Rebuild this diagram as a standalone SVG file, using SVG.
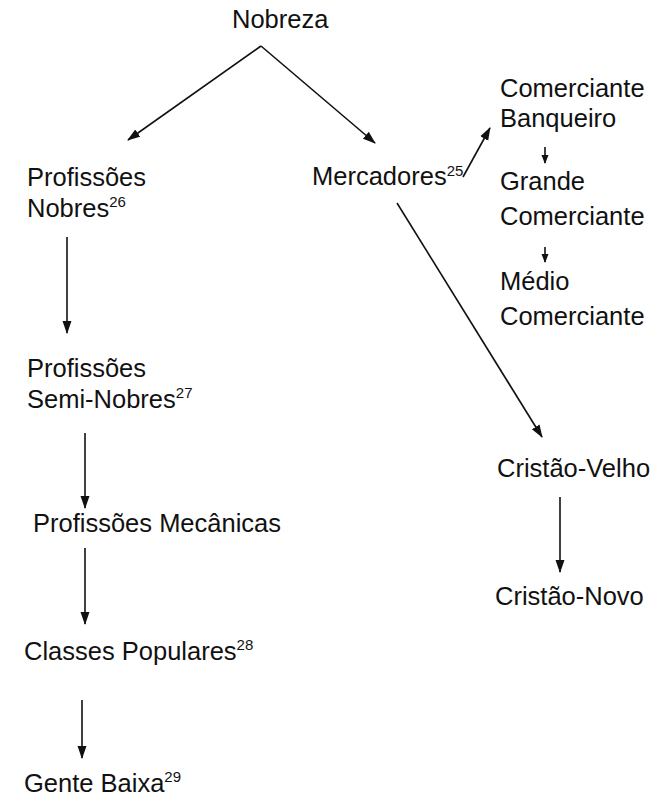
<svg xmlns="http://www.w3.org/2000/svg" width="669" height="797" viewBox="0 0 669 797">
<style>
text{font-family:"Liberation Sans",Arial,sans-serif;font-size:25.5px;fill:#111}
.sup{font-size:15px}
.c line{stroke:#111;stroke-width:1.6;fill:none}
</style>
<defs>
<marker id="ah" markerUnits="userSpaceOnUse" markerWidth="13" markerHeight="10" refX="12" refY="4.5" orient="auto" viewBox="0 0 13 9">
<path d="M0,0 L13,4.5 L0,9 Z" fill="#111"/>
</marker>
<marker id="ahs" markerUnits="userSpaceOnUse" markerWidth="9" markerHeight="8" refX="8" refY="3.5" orient="auto" viewBox="0 0 9 7">
<path d="M0,0 L9,3.5 L0,7 Z" fill="#111"/>
</marker>
</defs>
<rect width="669" height="797" fill="#fff"/>
<g id="n-nobreza"><text x="232" y="28">Nobreza</text></g>
<g id="n-prof-nobres"><text x="27" y="186">Profissões</text><text x="27" y="217">Nobres<tspan class="sup" dy="-10">26</tspan></text></g>
<g id="n-prof-semi"><text x="27" y="377">Profissões</text><text x="27" y="408">Semi-Nobres<tspan class="sup" dy="-10">27</tspan></text></g>
<g id="n-prof-mec"><text x="33" y="532">Profissões Mecânicas</text></g>
<g id="n-classes"><text x="24" y="660">Classes Populares<tspan class="sup" dy="-10">28</tspan></text></g>
<g id="n-gente"><text x="24" y="792">Gente Baixa<tspan class="sup" dy="-10">29</tspan></text></g>
<g id="n-mercadores"><text x="312" y="185">Mercadores<tspan class="sup" dy="-9">25</tspan></text></g>
<g id="n-banqueiro"><text x="500" y="97">Comerciante</text><text x="500" y="127">Banqueiro</text></g>
<g id="n-grande"><text x="500" y="190">Grande</text><text x="500" y="225">Comerciante</text></g>
<g id="n-medio"><text x="500" y="290">Médio</text><text x="500" y="325">Comerciante</text></g>
<g id="n-velho"><text x="497" y="477">Cristão-Velho</text></g>
<g id="n-novo"><text x="495" y="605">Cristão-Novo</text></g>
<g id="connectors" class="c">
<line x1="261" y1="46" x2="128" y2="140" marker-end="url(#ah)"/>
<line x1="261" y1="46" x2="375" y2="143" marker-end="url(#ah)"/>
<line x1="67" y1="237" x2="67" y2="333" marker-end="url(#ah)"/>
<line x1="85" y1="433" x2="85" y2="508" marker-end="url(#ah)"/>
<line x1="85" y1="548" x2="85" y2="624" marker-end="url(#ah)"/>
<line x1="82" y1="700" x2="82" y2="758" marker-end="url(#ah)"/>
<line x1="463" y1="177" x2="490" y2="128" marker-end="url(#ah)"/>
<line x1="545" y1="147" x2="545" y2="163" marker-end="url(#ahs)"/>
<line x1="545" y1="247" x2="545" y2="262" marker-end="url(#ahs)"/>
<line x1="397" y1="203" x2="542" y2="437" marker-end="url(#ah)"/>
<line x1="560" y1="497" x2="560" y2="572" marker-end="url(#ah)"/>
</g>
</svg>
